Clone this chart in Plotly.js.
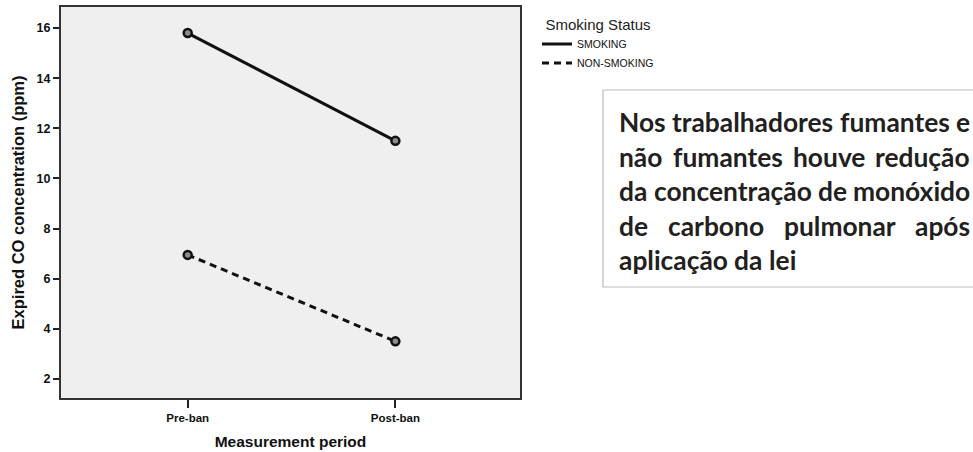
<!DOCTYPE html>
<html>
<head>
<meta charset="utf-8">
<script src="https://cdn.plot.ly/plotly-3.0.1.min.js"></script>
<style>
  body { margin: 0; background: #fff; }
  #chart { width: 973px; height: 452px; }
</style>
</head>
<body>
<div id="chart"></div>
<script>
// data
const periods = ["Pre-ban", "Post-ban"];
const smokingMeans = [15.8, 11.5];
const nonSmokingMeans = [6.95, 3.5];
const yTicks = [2, 4, 6, 8, 10, 12, 14, 16];
const noteLines = [
  "Nos trabalhadores fumantes e",
  "não fumantes houve redução",
  "da concentração de monóxido",
  "de carbono pulmonar após",
  "aplicação da lei"
];

// plot frame in pixels
const W = 973, H = 452;
const plotL = 61, plotR = 520, plotT = 7, plotB = 398;
const pw = plotR - plotL, ph = plotB - plotT;
const px2x = p => (p - plotL) / pw;
const py2y = p => (plotB - p) / ph;

const markerStyle = { symbol: 'circle', size: 8, color: '#8c8c8c', line: { color: '#111', width: 2.5 } };

const traces = [
  // lines (these carry the legend)
  {
    x: periods, y: smokingMeans, name: 'SMOKING',
    type: 'scatter', mode: 'lines',
    line: { color: '#111', width: 3 }
  },
  {
    x: periods, y: nonSmokingMeans, name: 'NON-SMOKING',
    type: 'scatter', mode: 'lines',
    line: { color: '#111', width: 3, dash: '7px,5px' }
  },
  // point markers, kept out of the legend
  {
    x: periods, y: smokingMeans, type: 'scatter', mode: 'markers',
    marker: markerStyle, showlegend: false
  },
  {
    x: periods, y: nonSmokingMeans, type: 'scatter', mode: 'markers',
    marker: markerStyle, showlegend: false
  }
];

// justified note text, one annotation per word
const noteLeft = 619, noteRight = 970;
const lineY = [122, 157, 191, 226, 260];
const ctx = document.createElement('canvas').getContext('2d');
ctx.font = 'bold 20px Lato';
const noteSize = 20 * (noteRight - noteLeft) / ctx.measureText(noteLines[0]).width;
ctx.font = 'bold ' + noteSize + 'px Lato';
const annotations = [];
noteLines.forEach((line, i) => {
  const words = line.split(' ');
  const widths = words.map(w => ctx.measureText(w).width);
  const total = widths.reduce((a, b) => a + b, 0);
  const last = i === noteLines.length - 1;
  const gap = last ? ctx.measureText(' ').width : (noteRight - noteLeft - total) / (words.length - 1);
  let cx = noteLeft;
  words.forEach((w, k) => {
    annotations.push({
      text: w, xref: 'paper', yref: 'paper',
      x: px2x(cx - 2), y: py2y(lineY[i]),
      xanchor: 'left', yanchor: 'middle', showarrow: false,
      font: { family: 'Lato', size: noteSize, color: '#231f20', weight: 'bold' }
    });
    cx += widths[k] + gap;
  });
});

const layout = {
  width: W, height: H,
  margin: { l: plotL, r: W - plotR, t: plotT, b: H - plotB, pad: 0 },
  paper_bgcolor: '#ffffff',
  plot_bgcolor: '#efefef',
  font: { family: 'Arial, Liberation Sans, sans-serif', color: '#111' },
  showlegend: true,
  legend: {
    x: px2x(537), y: py2y(10), xanchor: 'left', yanchor: 'top',
    bgcolor: 'rgba(0,0,0,0)',
    title: { text: 'Smoking Status', side: 'top center', font: { size: 15, color: '#222' } },
    font: { size: 10.5, color: '#111' },
    itemwidth: 30, tracegroupgap: 0
  },
  xaxis: {
    type: 'category', range: [-0.61, 1.6],
    showgrid: false, zeroline: false,
    showline: true, mirror: true, linecolor: '#333', linewidth: 2,
    ticks: 'outside', ticklen: 8, tickwidth: 2, tickcolor: '#222',
    tickfont: { size: 11.5, weight: 'bold' },
    title: { text: 'Measurement period', font: { size: 15.5, weight: 'bold' }, standoff: 13 }
  },
  yaxis: {
    range: [1.24, 16.84],
    tickvals: yTicks,
    showgrid: false, zeroline: false,
    showline: true, mirror: true, linecolor: '#333', linewidth: 2,
    ticks: 'outside', ticklen: 6, tickwidth: 2, tickcolor: '#222',
    tickfont: { size: 12.5, weight: 'bold' },
    title: { text: 'Expired CO concentration (ppm)', font: { size: 16.5, weight: 'bold' }, standoff: 8 }
  },
  shapes: [
    {
      type: 'rect', xref: 'paper', yref: 'paper',
      x0: px2x(603), x1: px2x(980), y0: py2y(90), y1: py2y(287),
      line: { color: '#bbbbbb', width: 1.2 }, fillcolor: 'rgba(0,0,0,0)'
    }
  ],
  annotations: annotations
};

Plotly.newPlot('chart', traces, layout, { displayModeBar: false, staticPlot: true });
</script>
</body>
</html>
